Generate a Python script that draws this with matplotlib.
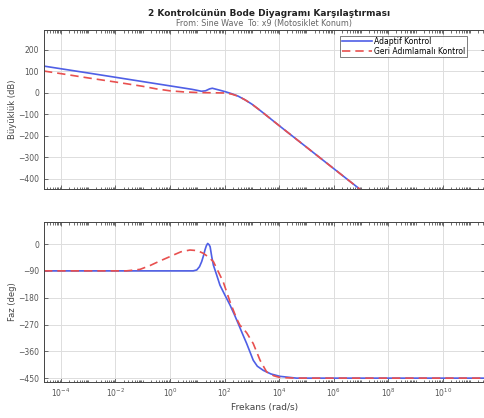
import numpy as np
import matplotlib.pyplot as plt
from matplotlib.ticker import FixedLocator, NullFormatter

# log10 of frequency (rad/s) and magnitude (dB) for both controllers
mag_adaptif_logw = [-4.62, -3.0, -2.0, -1.0, 0.0, 0.8, 1.0, 1.15, 1.3, 1.45, 1.55, 1.7, 1.85,
                    2.05, 2.25, 2.5, 2.75, 3.0, 3.3, 4.0, 5.0, 6.0, 7.0, 7.5]
mag_adaptif_db = [125, 93, 73, 53, 33, 17, 12, 8, 10, 19, 22, 17, 12,
                  5, -3, -15, -32, -52, -81, -152, -252, -352, -452, -502]

mag_geri_logw = [-4.62, -4.0, -3.0, -2.0, -1.0, -0.5, 0.0, 0.5, 1.0, 1.5, 2.0, 2.25, 2.5,
                 2.75, 3.0, 3.3, 4.0, 5.0, 6.0, 7.0, 7.5]
mag_geri_db = [102, 90, 70, 51, 31, 19, 10, 5, 2, 1, 0, -5, -15,
               -32, -52, -81, -152, -252, -352, -452, -502]

# phase (deg)
faz_adaptif_logw = [-4.62, 0.85, 0.98, 1.08, 1.16, 1.23, 1.28, 1.33, 1.38, 1.43, 1.47, 1.53,
                    1.59, 1.71, 1.83, 2.01, 2.2, 2.35, 2.5, 2.65, 2.81, 3.05, 3.2, 3.42,
                    3.7, 4.03, 4.64, 11.6]
faz_adaptif_deg = [-90, -90, -87, -76, -59, -38, -20, -6, 2, -2, -9, -43,
                   -71, -104, -138, -171, -205, -235, -267, -300, -334, -390, -410, -424,
                   -436, -444, -450, -450]

faz_geri_logw = [-4.62, -1.6, -1.1, -0.73, -0.4, -0.1, 0.12, 0.4, 0.73, 1.0, 1.22, 1.4,
                 1.59, 1.95, 2.2, 2.44, 2.56, 2.7, 2.81, 3.05, 3.3, 3.54, 3.8, 4.03, 4.64, 11.6]
faz_geri_deg = [-90, -90, -85, -72, -58, -46, -37, -26, -20, -22, -31, -43,
                -59, -127, -194, -250, -272, -286, -298, -334, -390, -429, -442, -448, -450, -450]

mag_ticks = [200, 100, 0, -100, -200, -300, -400]
faz_ticks = [0, -90, -180, -270, -360, -450]
x_decades = [-4, -2, 0, 2, 4, 6, 8, 10]

blue = '#4f5fe6'
red = '#e8504f'
tick_color = '#555555'

fig = plt.figure(figsize=(4.85, 4.18), dpi=100)
ax1 = fig.add_axes([0.0907, 0.5478, 0.909, 0.3804])
ax2 = fig.add_axes([0.0907, 0.0861, 0.909, 0.3828])

ax1.plot(10.0 ** np.array(mag_adaptif_logw), mag_adaptif_db, color=blue, lw=1.2, label='Adaptif Kontrol')
ax1.plot(10.0 ** np.array(mag_geri_logw), mag_geri_db, color=red, lw=1.2, ls=(0, (5, 3)),
         label='Geri Adımlamalı Kontrol')
ax2.plot(10.0 ** np.array(faz_adaptif_logw), faz_adaptif_deg, color=blue, lw=1.2)
ax2.plot(10.0 ** np.array(faz_geri_logw), faz_geri_deg, color=red, lw=1.2, ls=(0, (5, 3)))

major = [10.0 ** d for d in x_decades]
minor = [m * 10.0 ** k for k in range(-5, 12) for m in range(1, 10)
         if not (m == 1 and k in x_decades)]

for ax in (ax1, ax2):
    ax.set_xscale('log')
    ax.set_xlim(10 ** -4.62, 10 ** 11.54)
    ax.xaxis.set_major_locator(FixedLocator(major))
    ax.xaxis.set_minor_locator(FixedLocator(minor))
    ax.xaxis.set_minor_formatter(NullFormatter())
    ax.grid(True, which='major', color='#dddddd', lw=0.7)
    ax.tick_params(which='both', direction='in', top=True, right=True,
                   labelsize=5.5, colors=tick_color, length=3, width=0.6)
    ax.tick_params(which='minor', length=1.8)
    for s in ax.spines.values():
        s.set_color('#444444')
        s.set_linewidth(0.7)
    ax.set_axisbelow(True)

ax1.set_ylim(-447, 293)
ax1.set_yticks(mag_ticks)
ax1.set_xticklabels([])
ax1.set_ylabel('Büyüklük (dB)', fontsize=6, color='#444444', labelpad=1)

ax2.set_ylim(-463, 74)
ax2.set_yticks(faz_ticks)
ax2.set_xticklabels(['$10^{%d}$' % d for d in x_decades])
ax2.set_ylabel('Faz (deg)', fontsize=6, color='#444444', labelpad=1)
ax2.set_xlabel('Frekans (rad/s)', fontsize=6.5, color='#444444', labelpad=3)

leg = ax1.legend(loc='upper right', bbox_to_anchor=(0.96, 0.965), fontsize=5.5,
                 frameon=True, fancybox=False, edgecolor='#444444', handlelength=4,
                 borderpad=0.2, labelspacing=0.1, handletextpad=0.3, borderaxespad=0)
leg.get_frame().set_linewidth(0.6)

fig.text(0.555, 0.967, '2 Kontrolcünün Bode Diyagramı Karşılaştırması', ha='center', va='center',
         fontsize=6.5, fontweight='bold', color='#222222')
fig.text(0.545, 0.944, 'From: Sine Wave  To: x9 (Motosiklet Konum)', ha='center', va='center',
         fontsize=5.8, color='#666666')

fig.savefig('out.png', dpi=100)
